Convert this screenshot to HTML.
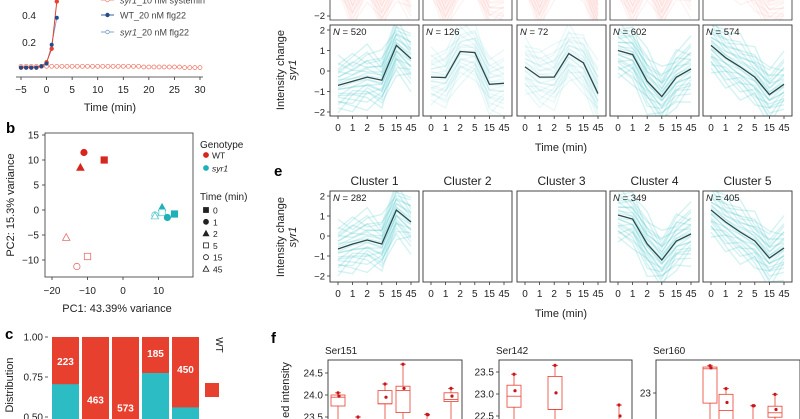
<!DOCTYPE html>
<html><head><meta charset="utf-8"><style>
html,body{margin:0;padding:0;background:#fff;overflow:hidden;width:800px;height:419px;}
svg{display:block;font-family:"Liberation Sans",sans-serif;}
</style></head><body>
<svg id="fig" width="800" height="419" viewBox="0 0 800 419" xmlns="http://www.w3.org/2000/svg"></svg>
<script>
// ---- Panel a data ----
const aTimes = [-5,-4,-3,-2,-1,0,1,2];
const aWT = [0.01,0.01,0.01,0.01,0.02,0.05,0.15,0.5];
const aSyr = [0.01,0.01,0.01,0.01,0.02,0.04,0.18,0.38];
const aFlatT = [-5,-4,-3,-2,-1,0,1,2,3,4,5,6,7,8,9,10,11,12,13,14,15,16,17,18,19,20,21,22,23,24,25,26,27,28,29,30];
const aFlatV = [0.02,0.02,0.02,0.02,0.02,0.02,0.02,0.02,0.02,0.02,0.02,0.02,0.02,0.02,0.02,0.02,0.02,0.02,0.02,0.02,0.02,0.02,0.02,0.02,0.015,0.015,0.015,0.015,0.015,0.015,0.015,0.015,0.01,0.01,0.01,0.01];
const aXTicks = [-5,0,5,10,15,20,25,30];
const aYTicks = [0.2,0.4];
// ---- Panel b data ----
const pcX = [-11,-5.3,-12,-16,-10,-13, 11,11,9,9,12.5,14.5];
const pcY = [11.5,10,8.5,-5.5,-9.3,-11.3, 0.5,-0.5,-1,-1.2,-1.5,-0.8];
const pcShape = ['circle','square','triangle','triangle','square','circle','triangle','square','circle','triangle','circle','square'];
const pcFill = [1,1,1,0,0,0,1,0,0,0,1,1];
const pcGeno = ['WT','WT','WT','WT','WT','WT','syr1','syr1','syr1','syr1','syr1','syr1'];
const bXTicks = [-20,-10,0,10];
const bYTicks = [15,10,5,0,-5,-10];
// ---- Panel c data ----
const cCounts = [223,463,573,185,450];
const cSyrFrac = [0.705,0,0,0.775,0.56];
const cLabelAt = [0.85,0.61,0.56,0.90,0.80];
const cYTicks = [1.00,0.75,0.50];
// ---- Panel d/e data ----
const tLabels = ['0','1','2','5','15','45'];
const dMeans = [[-0.7,-0.5,-0.3,-0.45,1.25,0.6],[-0.3,-0.32,0.95,0.9,-0.65,-0.6],[0.2,-0.3,-0.3,0.85,0.4,-1.1],[1.0,0.8,-0.5,-1.25,-0.3,0.1],[1.25,0.65,0.2,-0.3,-1.15,-0.65]];
const dN = [520,126,72,602,574];
const dRedMeans = [[0.5,-1.2,0.3,-1.3,0.2,-0.8],[0.3,-1.4,0.2,0.4,-1.3,-1.2],[0.5,-1.3,0.4,0.3,0.2,-1.9],[0.3,-1.2,0.4,-1.3,0.3,-0.5],[0.3,0.4,0.2,-0.4,-1.4,-1.2]];
const eMeans = [[-0.65,-0.4,-0.2,-0.4,1.3,0.7],null,null,[1.05,0.85,-0.4,-1.2,-0.25,0.1],[1.3,0.7,0.2,-0.25,-1.1,-0.6]];
const eN = [282,null,null,349,405];
const yTicksD = [2,1,0,-1,-2];
// ---- Panel f data ----
const fTitles = ['Ser151','Ser142','Ser160'];
const fQ1 = [[23.75,23.0,23.8,23.6,23.55,23.85],[22.7,22.65,22.5],[22.77,22.2,22.71,22.45]];
const fMed = [[23.95,23.2,23.8,24.1,23.55,23.9],[22.95,22.65,22.5],[23.55,22.6,22.71,22.55]];
const fQ3 = [[24.0,23.4,24.1,24.2,23.55,24.05],[23.2,23.4,22.5],[23.59,22.97,22.71,22.7]];
const fMax = [[24.05,23.5,24.25,24.7,23.56,24.15],[23.45,23.65,22.75],[23.62,23.1,22.71,22.97]];
const fPos = [[0,1,2,3,4,5],[0,1,2],[0,1,2,3]];
const fYTicks = [[24.5,24.0,23.5],[23.5,23.0,22.5],[23]];

const NS='http://www.w3.org/2000/svg';
const svg=document.getElementById('fig');
function mk(tag,attrs,parent){const e=document.createElementNS(NS,tag);for(const k in attrs)e.setAttribute(k,attrs[k]);(parent||svg).appendChild(e);return e;}
function txt(s,x,y,opt,parent){opt=opt||{};const t=mk('text',{x:x,y:y,'font-size':opt.size||10,'text-anchor':opt.anchor||'middle',fill:opt.fill||'#222','font-weight':opt.weight||'normal','font-style':opt.style||'normal'},parent);if(opt.rot)t.setAttribute('transform','rotate('+opt.rot+' '+x+' '+y+')');t.textContent=s;return t;}
const RED='#e8402f', CY='#2bbcc4', BLUE='#1f4e8c';

// ===== Panel a =====
const ax=v=>21+(v+5)*5.114, ay=v=>69-v*135;
let g=mk('g',{});

mk('line',{x1:16,y1:77,x2:203,y2:77,stroke:'#333','stroke-width':0.8},g);
aXTicks.forEach(v=>{mk('line',{x1:ax(v),y1:77,x2:ax(v),y2:80,stroke:'#333','stroke-width':0.8},g);const t=txt(v<0?'−'+(-v):String(v),ax(v),93,{size:10},g);});
aYTicks.forEach(v=>{const t=txt(v.toFixed(1),36,ay(v)+4,{size:10,anchor:'end'},g);});
let tt=txt('Time (min)',110,111,{size:11},g);
mk('polyline',{points:aFlatT.map((t,i)=>ax(t)+','+ay(aFlatV[i])).join(' '),fill:'none',stroke:'#f28a7d','stroke-width':0.8},g);
aFlatT.forEach((t,i)=>{const c=mk('circle',{cx:ax(t),cy:ay(aFlatV[i]),r:2,fill:'#fff',stroke:'#f0705f','stroke-width':0.7},g);});
mk('polyline',{points:aTimes.map((t,i)=>ax(t)+','+ay(aSyr[i])).join(' '),fill:'none',stroke:'#7c9cc8','stroke-width':0.9},g);
mk('polyline',{points:aTimes.map((t,i)=>ax(t)+','+ay(aWT[i])).join(' '),fill:'none',stroke:RED,'stroke-width':1},g);
aTimes.forEach((t,i)=>{let c=mk('circle',{cx:ax(t),cy:ay(aWT[i]),r:2.2,fill:RED},g);c=mk('circle',{cx:ax(t),cy:ay(aSyr[i]),r:2,fill:BLUE},g);});
const leg=[['syr1_10 nM systemin',0,'#f28a7d',true],['WT_20 nM flg22',15,BLUE,false],['syr1_20 nM flg22',32,'#7c9cc8',true]];
leg.forEach(l=>{const lg=mk('g',{},g);
 mk('line',{x1:101,y1:l[1],x2:114,y2:l[1],stroke:l[2],'stroke-width':0.9},lg);
 mk('circle',{cx:107.5,cy:l[1],r:1.8,fill:l[3]?'#fff':l[2],stroke:l[2],'stroke-width':0.8},lg);
 const t=txt(l[0],120,l[1]+3.5,{size:9,anchor:'start',fill:'#444'},lg);
 if(l[0].startsWith('syr1')){t.textContent='';const s1=mk('tspan',{'font-style':'italic'},t);s1.textContent='syr1';const s2=mk('tspan',{},t);s2.textContent=l[0].slice(4);}
});

// ===== Panel b =====
const bx=v=>123+v*3.55, by=v=>210-v*5;
g=mk('g',{});
txt('b',6,133,{size:15,weight:'bold',anchor:'start',fill:'#000'},g);
mk('rect',{x:45,y:133,width:148,height:144,fill:'none',stroke:'#333','stroke-width':0.8},g);
bXTicks.forEach(v=>{mk('line',{x1:bx(v),y1:277,x2:bx(v),y2:280,stroke:'#333','stroke-width':0.8},g);const t=txt(v<0?'−'+(-v):String(v),bx(v),294,{size:10},g);});
bYTicks.forEach(v=>{mk('line',{x1:42,y1:by(v),x2:45,y2:by(v),stroke:'#333','stroke-width':0.8},g);const t=txt(v<0?'−'+(-v):String(v),39,by(v)+3.5,{size:10,anchor:'end'},g);});
tt=txt('PC1: 43.39% variance',117,312,{size:11},g);
tt=txt('PC2: 15.3% variance',14,205,{size:11,rot:-90},g);
function shape(sh,x,y,fill,col,s,parent){let e;
 if(sh==='circle')e=mk('circle',{cx:x,cy:y,r:s},parent);
 else if(sh==='square')e=mk('rect',{x:x-s,y:y-s,width:2*s,height:2*s},parent);
 else e=mk('polygon',{points:(x)+','+(y-s*1.2)+' '+(x-s*1.15)+','+(y+s*0.9)+' '+(x+s*1.15)+','+(y+s*0.9)},parent);
 e.setAttribute('fill',fill?col:'#fff');e.setAttribute('stroke',col);e.setAttribute('stroke-width',0.8);return e;}
pcX.forEach((v,i)=>{const col=pcGeno[i]==='WT'?(pcFill[i]?'#d7261e':'#e5716a'):(pcFill[i]?'#1fb0b8':'#5ccad0');const e=shape(pcShape[i],bx(v),by(pcY[i]),pcFill[i],col,3.2,g);});
txt('Genotype',200,148,{size:10,anchor:'start'},g);
shape('circle',206,155,1,'#d7261e',2.5,g);txt('WT',212,158.5,{size:8.5,anchor:'start'},g);
shape('circle',206,168,1,'#1fb0b8',2.5,g);txt('syr1',212,171.5,{size:8.5,anchor:'start',style:'italic'},g);
txt('Time (min)',200,200,{size:10,anchor:'start'},g);
const tl=[['square',1,'0'],['circle',1,'1'],['triangle',1,'2'],['square',0,'5'],['circle',0,'15'],['triangle',0,'45']];
tl.forEach((l,i)=>{const y=210+i*11.8;const e=shape(l[0],206,y,l[1],'#222',2.5,g);txt(l[2],213,y+3.5,{size:8.5,anchor:'start'},g);});

// ===== Panel c =====
const cy=v=>337+(1-v)*160;
g=mk('g',{});
txt('c',5,339,{size:15,weight:'bold',anchor:'start',fill:'#000'},g);
cYTicks.forEach(v=>{mk('line',{x1:45,y1:cy(v),x2:48,y2:cy(v),stroke:'#333','stroke-width':0.8},g);const t=txt(v.toFixed(2),43,cy(v)+3.5,{size:10,anchor:'end'},g);});
tt=txt('Distribution',13,385,{size:11,rot:-90},g);
cCounts.forEach((n,i)=>{const x=52+i*30;
 const r=mk('rect',{x:x,y:cy(1),width:27,height:cy(0)-cy(1),fill:RED},g);
 if(cSyrFrac[i]>0){const s=mk('rect',{x:x,y:cy(cSyrFrac[i]),width:27,height:cy(0)-cy(cSyrFrac[i]),fill:CY},g);}
 const lab=txt(String(n),x+13.5,cy(cLabelAt[i])+4,{size:10,weight:'bold',fill:'#fff'},g);
});
txt('WT',216,345,{size:10,rot:90,anchor:'middle'},g);
mk('rect',{x:205,y:383,width:14,height:14,fill:RED},g);

// ===== Panel d & e =====
const colX0=[330,423,517,610,703], colW=89;
function tx(c,i){return colX0[c]+8+i*(colW-16)/5;}
function fan(parent,c,mean,yf,col,op){
 const offs=[];for(let k=-12;k<=12;k++)offs.push(k*0.1);
 offs.forEach((o,k)=>{const pts=mean.map((m,i)=>{const w=((k+i)%3-1)*0.35;return tx(c,i)+','+yf(m+o*(1+w));}).join(' ');mk('polyline',{points:pts,fill:'none',stroke:col,'stroke-width':1.4,'stroke-opacity':op},parent);});
}
g=mk('g',{});
const dyTop=v=>-24-v*20;
const dy=v=>71-v*20.5;
for(let c=0;c<5;c++){
 const cc=mk('clipPath',{id:'ct'+c});mk('rect',{x:colX0[c],y:0,width:colW,height:20},cc);
 const inner=mk('g',{'clip-path':'url(#ct'+c+')'},g);
 fan(inner,c,dRedMeans[c],dyTop,'#f07a70',0.09);
 const b=mk('path',{d:'M'+colX0[c]+',0 V20 H'+(colX0[c]+colW)+' V0',fill:'none',stroke:'#333','stroke-width':0.8},g);
}
mk('line',{x1:327,y1:16,x2:330,y2:16,stroke:'#333','stroke-width':0.8},g);
txt('−2',325,19,{size:9.5,anchor:'end'},g);
function clusterRow(parent,means,ns,y0,y1,yf,prefix){
 for(let c=0;c<5;c++){
  const cc=mk('clipPath',{id:prefix+c});mk('rect',{x:colX0[c],y:y0,width:colW,height:y1-y0},cc);
  const inner=mk('g',{'clip-path':'url(#'+prefix+c+')'},parent);
  
  if(means[c]){fan(inner,c,means[c],yf,CY,ns[c]>200?0.2:0.1);
   const ml=mk('polyline',{points:means[c].map((m,i)=>tx(c,i)+','+yf(m)).join(' '),fill:'none',stroke:'#2c4a4c','stroke-width':1.3},inner);
   const nt=txt('',colX0[c]+3,y0+10,{size:9.5,anchor:'start'},parent);const s1=mk('tspan',{'font-style':'italic'},nt);s1.textContent='N';const s2=mk('tspan',{},nt);s2.textContent=' = '+ns[c];
  }
  const b=mk('rect',{x:colX0[c],y:y0,width:colW,height:y1-y0,fill:'none',stroke:'#333','stroke-width':0.9},parent);
  tLabels.forEach((l,i)=>{mk('line',{x1:tx(c,i),y1:y1,x2:tx(c,i),y2:y1+3,stroke:'#333','stroke-width':0.8},parent);const t=txt(l,tx(c,i),y1+15,{size:10},parent);});
 }
 yTicksD.forEach(v=>{mk('line',{x1:327,y1:yf(v),x2:330,y2:yf(v),stroke:'#333','stroke-width':0.8},parent);const t=txt(v<0?'−'+(-v):String(v),325,yf(v)+3.5,{size:9.5,anchor:'end'},parent);});
}
clusterRow(g,dMeans,dN,25,116,dy,'cd');
tt=txt('Time (min)',561,151,{size:11},g);
tt=txt('Intensity change',284,70,{size:11,rot:-90},g);
txt('syr1',296,70,{size:11,rot:-90,style:'italic'},g);

g=mk('g',{});
txt('e',274,176,{size:15,weight:'bold',anchor:'start',fill:'#000'},g);
const ey=v=>236-v*20;
clusterRow(g,eMeans,eN,191,282,ey,'ce');
for(let c=0;c<5;c++){const t=txt('Cluster '+(c+1),colX0[c]+colW/2,185,{size:12},g);}
tt=txt('Time (min)',561,317,{size:11},g);
tt=txt('Intensity change',284,237,{size:11,rot:-90},g);
txt('syr1',296,237,{size:11,rot:-90,style:'italic'},g);

// ===== Panel f =====
g=mk('g',{});
txt('f',271,343,{size:15,weight:'bold',anchor:'start',fill:'#000'},g);
tt=txt('ed intensity',289,390,{size:11,rot:-90},g);
const fBox=[[328,462,24.5,373],[499,632,23.5,372],[656,800,23,393]];
const fCenters=[[338,358,385,403,427,451],[514,555,619],[710,726,753,775]];
fTitles.forEach((tname,p)=>{
 const [x0,x1,refV,refY]=fBox[p];const fy=v=>refY-(v-refV)*44;
 const t=txt(tname,x0-3,354,{size:10,anchor:'start'},g);
 mk('rect',{x:x0,y:360,width:x1-x0,height:80,fill:'none',stroke:'#333','stroke-width':0.9},g);
 fYTicks[p].forEach(v=>{mk('line',{x1:x0-3,y1:fy(v),x2:x0,y2:fy(v),stroke:'#333','stroke-width':0.8},g);const tk=txt(p===2?String(v):v.toFixed(1),x0-5,fy(v)+3.5,{size:10,anchor:'end'},g);});
 fQ1[p].forEach((q1,i)=>{const cx=fCenters[p][fPos[p][i]];const bg=mk('g',{},g);
  mk('line',{x1:cx,y1:fy(fMax[p][i]),x2:cx,y2:fy(fQ3[p][i]),stroke:RED,'stroke-width':0.8},bg);
  mk('line',{x1:cx-3,y1:fy(fMax[p][i]),x2:cx+3,y2:fy(fMax[p][i]),stroke:RED,'stroke-width':0.8},bg);
  mk('line',{x1:cx,y1:fy(fQ1[p][i]),x2:cx,y2:419,stroke:RED,'stroke-width':0.8},bg);
  if(fQ3[p][i]-q1>0.02){mk('rect',{x:cx-7,y:fy(fQ3[p][i]),width:14,height:fy(q1)-fy(fQ3[p][i]),fill:'#fff',stroke:RED,'stroke-width':0.8},bg);
   mk('line',{x1:cx-7,y1:fy(fMed[p][i]),x2:cx+7,y2:fy(fMed[p][i]),stroke:RED,'stroke-width':0.8},bg);}
  mk('circle',{cx:cx,cy:fy(fMax[p][i]),r:1.6,fill:'#c8161d'},bg);
  mk('circle',{cx:cx+1,cy:fy((fMed[p][i]+fQ3[p][i])/2),r:1.6,fill:'#c8161d'},bg);
 });
});
</script>
</body></html>
